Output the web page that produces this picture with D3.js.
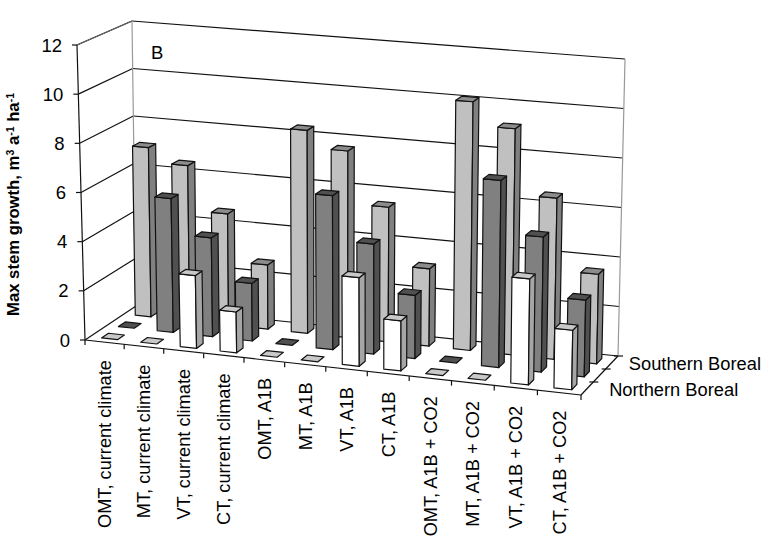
<!DOCTYPE html>
<html><head><meta charset="utf-8">
<script src="https://cdn.jsdelivr.net/npm/d3@7"></script>
<style>html,body{margin:0;padding:0;background:#fff}svg{display:block}text{font-family:"Liberation Sans",Arial,sans-serif;fill:#000}</style>
</head><body><svg id="c" width="775" height="557"></svg>
<script>
const categories=["OMT, current climate","MT, current climate","VT, current climate","CT, current climate","OMT, A1B","MT, A1B","VT, A1B","CT, A1B","OMT, A1B + CO2","MT, A1B + CO2","VT, A1B + CO2","CT, A1B + CO2"];
const yTicks=[0,2,4,6,8,10,12];
const frontRow=[0,0,2.95,1.65,0,0,3.55,2.0,0,0,4.2,2.35];
const middleRow=[0,5.5,4.05,2.35,0,6.25,4.45,2.55,0,7.5,5.4,3.05];
const backRow=[7.05,6.45,4.6,2.65,8.35,7.65,5.5,3.15,10.1,9.15,6.5,3.6];
const rows=[frontRow,middleRow,backRow];
const rowNames=["Northern Boreal","","Southern Boreal"];
const faceColors=[["#ffffff","#a6a6a6","#c8c8c8"],["#808080","#505050","#505050"],["#c0c0c0","#808080","#8c8c8c"]];

// 3D box corners on screen: f/b front/back, l/r left/right, 0/1 floor/top
const C={fl0:[85,340],fr0:[581,395],br0:[618,356],bl0:[136,306],fl1:[77,45],fr1:[586,90],br1:[625,59],bl1:[132,21]};
const lerp=(a,b,t)=>[a[0]+(b[0]-a[0])*t,a[1]+(b[1]-a[1])*t];
const warp=u=>u/(1+0.06*(1-u));
const valueScale=d3.scaleLinear().domain([0,12]).range([0,1]);
const catBand=d3.scaleBand().domain(d3.range(categories.length)).range([0,1]).paddingInner(.59).paddingOuter(.295);
const rowBand=d3.scaleBand().domain(d3.range(rows.length)).range([0,1]).paddingInner(.59).paddingOuter(.295);
function P(u,v,val){
  const w=valueScale(val),U=warp(u);
  const f0=lerp(C.fl0,C.fr0,U),b0=lerp(C.bl0,C.br0,U),f1=lerp(C.fl1,C.fr1,U),b1=lerp(C.bl1,C.br1,U);
  return lerp(lerp(f0,b0,v),lerp(f1,b1,v),w);
}
const svg=d3.select("#c");
const seg=(a,b,col,sw)=>svg.append("line").attr("x1",a[0]).attr("y1",a[1]).attr("x2",b[0]).attr("y2",b[1]).attr("stroke",col).attr("stroke-width",sw||1.2);
const poly=(pts,fill)=>svg.append("polygon").attr("points",pts.map(p=>p.join(",")).join(" ")).attr("fill",fill).attr("stroke","#111").attr("stroke-width",1.2).attr("stroke-linejoin","round");

// walls
yTicks.forEach(t=>{
  seg(P(0,0,t),P(0,1,t),"#111");
  seg(P(0,1,t),P(1,1,t),"#111");
});
seg(P(0,1,0),P(0,1,12),"#999");
seg(P(1,1,0),P(1,1,12),"#999");
seg(P(0,0,12),P(0,1,12),"#666");
// floor edges
seg(P(0,0,0),P(1,0,0),"#111");
seg(P(1,0,0),P(1,1,0),"#111");
seg(P(0,0,0),P(0,0,12),"#111");
// y ticks and labels
yTicks.forEach(t=>{
  const p=P(0,0,t);
  seg([p[0]-5,p[1]],p,"#111");
  svg.append("text").attr("x",p[0]-15).attr("y",p[1]).attr("dy",".36em").attr("text-anchor","end").attr("font-size",18.5).text(t);
});
// x ticks
d3.range(categories.length+1).forEach(i=>{
  const p=P(i/categories.length,0,0);
  seg(p,[p[0],p[1]+5],"#111");
});
// depth ticks
d3.range(1,rows.length+1).forEach(r=>{
  const p=P(1,r/rows.length,0);
  seg([p[0]-4,p[1]],[p[0]+5,p[1]],"#111");
});
// bars, back row first
d3.range(rows.length).reverse().forEach(r=>{
  const [cF,cS,cT]=faceColors[r];
  rows[r].forEach((val,i)=>{
    const u0=catBand(i),u1=u0+catBand.bandwidth(),v0=rowBand(r),v1=v0+rowBand.bandwidth();
    if(val>0){
      poly([P(u0,v0,0),P(u1,v0,0),P(u1,v0,val),P(u0,v0,val)],cF);
      poly([P(u1,v0,0),P(u1,v1,0),P(u1,v1,val),P(u1,v0,val)],cS);
    }
    poly([P(u0,v0,val),P(u1,v0,val),P(u1,v1,val),P(u0,v1,val)],cT);
  });
});
// category labels
categories.forEach((c,i)=>{
  const p=P((i+.5)/categories.length,0,0);
  svg.append("text").attr("transform",`translate(${p[0]},${p[1]+18}) rotate(-90)`).attr("dy",".36em").attr("text-anchor","end").attr("font-size",18.2).text(c);
});
// depth labels
rowNames.forEach((n,r)=>{
  if(!n)return;
  const p=P(1,(r+.5)/rows.length,0);
  svg.append("text").attr("x",p[0]+22-2.5*r).attr("y",p[1]+1).attr("dy",".36em").attr("font-size",18.3).text(n);
});
svg.append("text").attr("x",151).attr("y",59).attr("font-size",18.5).text("B");
// y title
const t=svg.append("text").attr("transform","translate(19,316) rotate(-90)").attr("font-weight","bold").attr("font-size",16.7);
[["Max stem growth, m",0],["3",-5],[" a",5],["-1",-5],[" ha",5],["-1",-5]].forEach(([s,dy])=>{
  const isSup=dy<0;
  t.append("tspan").attr("dy",dy).attr("font-size",isSup?10.5:16.7).text(s);
});
</script></body></html>
